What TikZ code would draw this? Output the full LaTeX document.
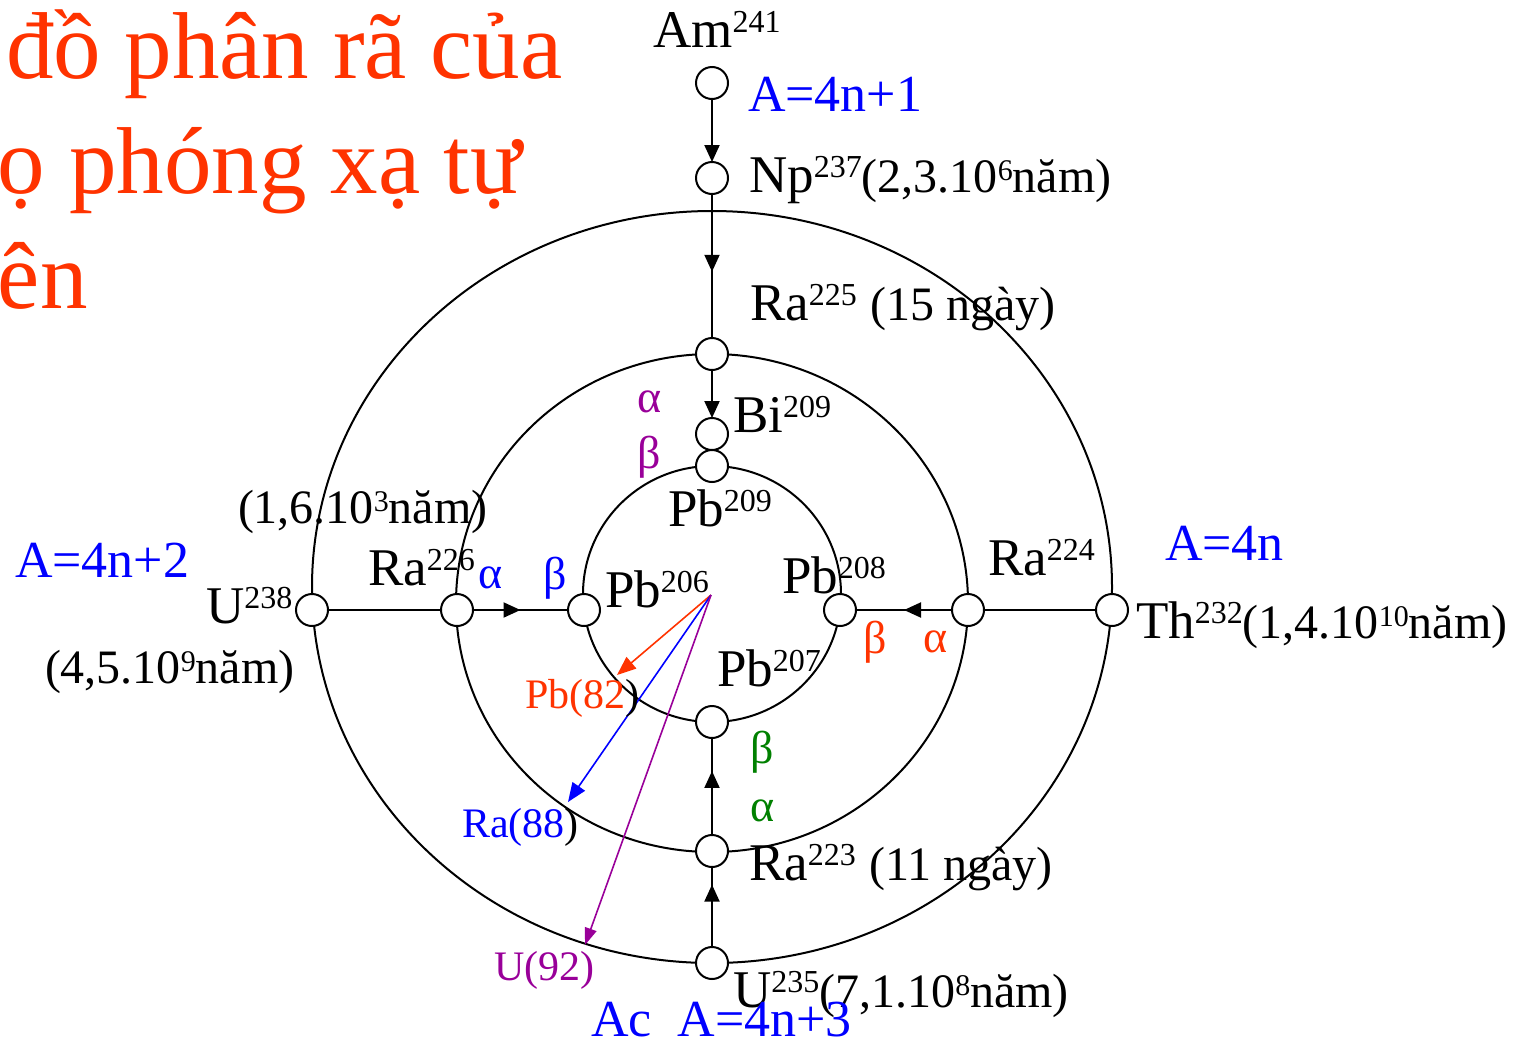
\documentclass[tikz,border=0pt]{standalone}
\usepackage{fontspec}
\setmainfont{Liberation Serif}
\usetikzlibrary{arrows.meta,decorations.markings}

\definecolor{tOrange}{RGB}{255,51,0}
\definecolor{tBlue}{RGB}{0,0,255}
\definecolor{tPurple}{RGB}{153,0,153}
\definecolor{tGreen}{RGB}{0,128,0}

\newcommand\mainsz{\fontsize{53pt}{60pt}\selectfont}
\newcommand\parsz{\fontsize{48pt}{54pt}\selectfont}
\newcommand\famsz{\fontsize{52pt}{58pt}\selectfont}
\newcommand\elsz{\fontsize{42pt}{48pt}\selectfont}
\newcommand\grsz{\fontsize{46pt}{52pt}\selectfont}
\newcommand\ttlsz{\fontsize{95pt}{100pt}\selectfont}
\newcommand\hsup[1]{\raisebox{15pt}{\fontsize{32pt}{32pt}\selectfont #1}}
\newcommand\lsup[1]{\raisebox{12pt}{\fontsize{30pt}{30pt}\selectfont #1}}

\tikzset{
  lbl/.style={anchor=base west, inner sep=0pt, outer sep=0pt},
  nuc/.style={circle, draw, fill=white, line width=2pt, minimum size=32pt, inner sep=0pt, outer sep=0pt},
  ring/.style={line width=2pt},
  conn/.style={line width=2pt},
  endarrow/.style={-{Triangle[length=17pt,width=15pt]}},
  midarrow/.style={postaction={decorate}, decoration={markings, mark=at position #1 with {\arrow{Triangle[length=17pt,width=15pt]}}}},
  ptr/.style={line width=1.6pt, -{Triangle[length=19pt,width=15pt]}}
}

\begin{document}
\begin{tikzpicture}[x=1pt,y=-1pt]
\useasboundingbox (0,0) rectangle (1514,1050);

% title
\node[lbl, text=tOrange] (t1) at (6,78) {\ttlsz đồ phân rã của};
\node[lbl, text=tOrange] (t2) at (-2,193) {\ttlsz ọ phóng xạ tự};
\node[lbl, text=tOrange] (t3) at (-2,308) {\ttlsz ên};

% rings
\draw[ring] (712,587) ellipse [x radius=400pt, y radius=376pt];
\draw[ring] (712,603) ellipse [x radius=256pt, y radius=249pt];
\draw[ring] (712,594) ellipse [x radius=129pt, y radius=128pt];

% nuclide circles
\node[nuc] (am) at (712,83) {};
\node[nuc] (np) at (712,178) {};
\node[nuc] (ra225) at (712,354) {};
\node[nuc] (bi) at (712,434) {};
\node[nuc] (pb209) at (712,466) {};
\node[nuc] (pb206) at (584,610) {};
\node[nuc] (pb208) at (840,610) {};
\node[nuc] (pb207) at (712,722) {};
\node[nuc] (ra223) at (712,851) {};
\node[nuc] (u235) at (712,963) {};
\node[nuc] (u238) at (312,610) {};
\node[nuc] (ra226) at (457,610) {};
\node[nuc] (ra224) at (968,610) {};
\node[nuc] (th232) at (1112,610) {};

% connectors
\draw[conn, endarrow] (am) -- (np);
\draw[conn, midarrow=0.54] (np) -- (ra225);
\draw[conn, endarrow] (ra225) -- (bi);
\draw[conn] (u238) -- (ra226);
\draw[conn, midarrow=0.5] (ra226) -- (pb206);
\draw[conn] (th232) -- (ra224);
\draw[conn, midarrow=0.5] (ra224) -- (pb208);
\draw[conn, midarrow=0.78] (u235) -- (ra223);
\draw[conn, midarrow=0.66] (ra223) -- (pb207);

% coloured pointers
\coordinate (src) at (711,595);
\coordinate (pbT) at (617,675);
\coordinate (raT) at (568,802);
\coordinate (uT) at (585,945);
\draw[ptr, tOrange] (src) -- (pbT);
\draw[ptr, tBlue] (src) -- (raT);
\draw[ptr, tPurple, -{Triangle[length=17pt,width=12pt]}] (src) -- (uT);

% labels
\node[lbl] (lAm) at (653,47) {\mainsz Am\hsup{241}};
\node[lbl, text=tBlue] (f1) at (748,111) {\famsz A=4n+1};
\node[lbl] (lNp) at (749,192) {\mainsz Np\hsup{237}\parsz(2,3.10\lsup{6}năm)};
\node[lbl] (lRa225) at (750,320) {\mainsz Ra\hsup{225} \parsz(15 ngày)};
\node[lbl] (lBi) at (733,432) {\mainsz Bi\hsup{209}};
\node[lbl] (lPb209) at (668,526) {\mainsz Pb\hsup{209}};
\node[lbl, text=tPurple] (ga1) at (637,412) {\grsz α};
\node[lbl, text=tPurple] (gb1) at (637,468) {\grsz β};

\node[lbl] (lRa226h) at (238,523) {\parsz(1,6.10\lsup{3}năm)};
\node[lbl, text=tBlue] (f2) at (15,577) {\famsz A=4n+2};
\node[lbl] (lRa226) at (368,585) {\mainsz Ra\hsup{226}};
\node[lbl, text=tBlue] (ga2) at (478,588) {\grsz α};
\node[lbl, text=tBlue] (gb2) at (543,589) {\grsz β};
\node[lbl] (lU238) at (206,623) {\mainsz U\hsup{238}};
\node[lbl] (lU238h) at (45,683) {\parsz(4,5.10\lsup{9}năm)};
\node[lbl] (lPb206) at (605,607) {\mainsz Pb\hsup{206}};

\node[lbl] (lPb208) at (782,593) {\mainsz Pb\hsup{208}};
\node[lbl] (lRa224) at (988,575) {\mainsz Ra\hsup{224}};
\node[lbl, text=tBlue] (f3) at (1165,560) {\famsz A=4n};
\node[lbl] (lTh) at (1136,638) {\mainsz Th\hsup{232}\parsz(1,4.10\lsup{10}năm)};
\node[lbl, text=tOrange] (gb3) at (863,653) {\grsz β};
\node[lbl, text=tOrange] (ga3) at (923,652) {\grsz α};

\node[lbl] (lPb207) at (717,686) {\mainsz Pb\hsup{207}};
\node[lbl, text=tOrange] (pbl) at (525,708) {\elsz Pb(82{\color{black})}};
\node[lbl, text=tGreen] (gb4) at (750,763) {\grsz β};
\node[lbl, text=tGreen] (ga4) at (750,821) {\grsz α};
\node[lbl, text=tBlue] (ral) at (462,837) {\elsz Ra(88{\color{black})}};
\node[lbl] (lRa223) at (749,880) {\mainsz Ra\hsup{223} \parsz(11 ngày)};
\node[lbl, text=tPurple] (ul) at (494,980) {\elsz U(92)};
\node[lbl] (lU235) at (733,1007) {\mainsz U\hsup{235}\parsz(7,1.10\lsup{8}năm)};
\node[lbl, text=tBlue] (f4) at (591,1036) {\famsz Ac\hspace{0.5em}A=4n+3};
\end{tikzpicture}
\end{document}
